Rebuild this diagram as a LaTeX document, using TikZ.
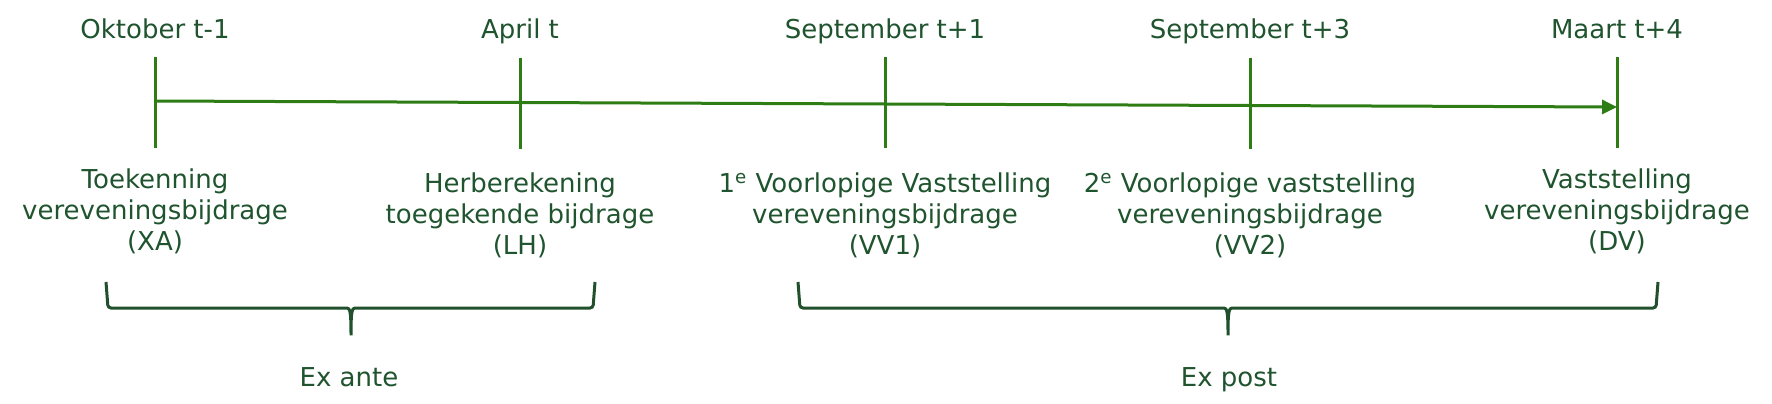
\documentclass[tikz,border=0pt]{standalone}
\usepackage{fontspec}
\setmainfont{DejaVu Sans}
\usetikzlibrary{positioning, arrows.meta}
\definecolor{linegreen}{RGB}{46,125,20}
\definecolor{textgreen}{RGB}{31,84,46}
\definecolor{bracegreen}{RGB}{33,80,45}
\newcommand{\tsup}[1]{\textsuperscript{#1}}

\begin{document}
\begin{tikzpicture}[
		x=0.5pt, y=-0.5pt,
		>={Triangle[length=7.5pt, width=7pt]},
		date/.style={anchor=base, inner sep=0pt, text=textgreen, font=\fontsize{13pt}{15.5pt}\selectfont},
		event/.style={anchor=north, align=center, inner sep=0pt, text=textgreen, font=\fontsize{13pt}{15.5pt}\selectfont},
		tickline/.style={draw=linegreen, line width=1.5pt},
		curly/.style={draw=bracegreen, line width=1.5pt, rounded corners=1.5pt},
	]
	\useasboundingbox (0, 0) rectangle (1772, 403);

	% points on the time axis
	\coordinate (okt) at (155, 101);
	\coordinate (apr) at (520, 102.5);
	\coordinate (sep1) at (885, 104);
	\coordinate (sep3) at (1250, 105.5);
	\coordinate (mrt) at (1617, 107);

	\draw [tickline, ->] (okt) -- (mrt);
	\draw [tickline] (okt) ++(0, -44) -- ++(0, 91);
	\draw [tickline] (apr) ++(0, -45) -- ++(0, 91);
	\draw [tickline] (sep1) ++(0, -47) -- ++(0, 91);
	\draw [tickline] (sep3) ++(0, -48) -- ++(0, 91);
	\draw [tickline] (mrt) ++(0, -50) -- ++(0, 91);

	\node[date] (date1) at (155, 38) {Oktober t-1};
	\node[date] (date2) at (520, 38) {April t};
	\node[date] (date3) at (885, 38) {September t+1};
	\node[date] (date4) at (1250, 38) {September t+3};
	\node[date] (date5) at (1617, 38) {Maart t+4};

	\node[event] (event1) at (155, 168) {Toekenning\\vereveningsbijdrage\\(XA)};
	\node[event] (event2) at (520, 172) {Herberekening\\toegekende bijdrage\\(LH)};
	\node[event] (event3) at (885, 172) {1\tsup{e} Voorlopige Vaststelling\\vereveningsbijdrage\\(VV1)};
	\node[event] (event4) at (1250, 172) {2\tsup{e} Voorlopige vaststelling\\vereveningsbijdrage\\(VV2)};
	\node[event] (event5) at (1617, 168) {Vaststelling\\vereveningsbijdrage\\(DV)};

	% braces
	\draw [curly] (106, 282) -- (108, 308) -- (344, 308) .. controls (350, 308) and (351, 312) .. (351, 337)
		.. controls (351, 312) and (352, 308) .. (358, 308) -- (593, 308) -- (595, 282);
	\draw [curly] (798, 282) -- (800, 308) -- (1221, 308) .. controls (1227, 308) and (1228, 312) .. (1228, 337)
		.. controls (1228, 312) and (1229, 308) .. (1235, 308) -- (1656, 308) -- (1658, 282);

	\node[date] (period1) at (349, 386) {Ex ante};
	\node[date] (period2) at (1229, 386) {Ex post};
\end{tikzpicture}
\end{document}
